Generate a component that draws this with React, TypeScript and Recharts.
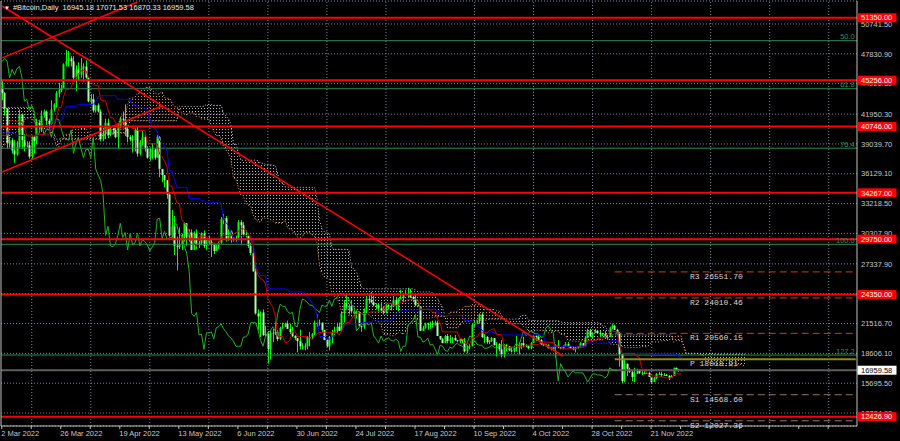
import { ComposedChart, Bar, Line, Area, XAxis, YAxis, CartesianGrid, ReferenceLine, ReferenceDot } from 'recharts'

const FONT = '"Liberation Sans", Arial, sans-serif'
const MONO = '"Liberation Mono", "DejaVu Sans Mono", monospace'

// daily bars, 14 Dec 2021 .. 3 Dec 2022, prices in thousands of USD
// (bars before 2 Mar only feed the ichimoku windows)
const closesK = [
  48.4, 48.9, 47.6, 46.2, 46.8, 46.7, 46.9, 49.0, 48.6, 50.8, 50.4, 50.8, 50.6, 50.6, 47.5, 46.5, 47.1, 46.3,
  47.7, 47.3, 46.4, 45.8, 43.4, 43.1, 41.5, 41.7, 41.9, 41.8, 42.7, 43.9, 42.6, 43.1, 43.2, 43.1, 42.2, 42.4, 41.7, 40.7, 36.5, 35.1, 36.3, 36.7, 36.9, 36.8, 37.2, 37.7, 38.2, 37.9, 38.5,
  38.7, 36.9, 37.3, 41.6, 41.4, 42.4, 43.8, 44.1, 44.4, 43.6, 42.4, 42.2, 42.1, 42.6, 44.6, 43.9, 40.6, 40.0, 40.1, 38.4, 37.0, 38.3, 37.3, 38.3, 39.2, 39.1, 37.7, 43.2,
  44.4, 44.0, 42.5, 39.1, 39.4, 38.4, 38.0, 38.7, 41.9, 39.4, 38.8, 38.9, 37.8, 39.7, 39.3, 41.1, 40.9, 41.8, 42.2, 41.3, 41.0, 42.4, 42.9, 44.0, 44.3, 44.5, 46.8, 47.1, 47.4, 47.1, 45.5,
  46.3, 45.8, 46.4, 46.6, 45.5, 43.2, 43.4, 42.3, 42.8, 42.2, 39.5, 40.1, 41.1, 39.9, 40.5, 40.4, 39.7, 40.8, 41.5, 41.4, 40.5, 39.7, 39.5, 39.4, 40.4, 38.1, 39.2, 39.7, 38.6, 37.7,
  38.5, 38.5, 37.7, 39.7, 36.6, 36.0, 35.5, 34.1, 30.1, 31.0, 29.1, 29.0, 29.3, 30.1, 31.3, 29.9, 30.4, 28.7, 30.3, 29.2, 29.4, 30.3, 29.1, 29.7, 29.5, 29.2, 28.6, 29.0, 29.4, 31.7, 31.8,
  29.8, 30.5, 29.7, 29.9, 29.9, 31.4, 31.1, 30.2, 30.1, 29.1, 28.4, 26.6, 22.5, 22.2, 22.6, 20.4, 20.5, 19.0, 20.6, 20.6, 20.7, 20.0, 21.1, 21.2, 21.5, 21.0, 20.7, 20.3, 20.1, 19.8,
  19.3, 19.3, 19.3, 20.2, 20.2, 20.5, 21.6, 21.6, 21.6, 20.9, 19.9, 19.3, 20.2, 20.6, 20.8, 21.2, 20.8, 22.5, 23.4, 23.2, 23.2, 22.7, 22.5, 22.6, 21.3, 21.2, 22.9, 23.9, 23.8, 23.6, 23.3,
  23.3, 23.0, 22.8, 22.6, 23.3, 23.2, 23.2, 23.8, 23.2, 23.9, 24.0, 24.4, 24.4, 24.3, 24.1, 23.9, 23.3, 23.2, 20.8, 21.1, 21.5, 21.4, 21.5, 21.4, 21.6, 20.3, 20.0, 19.6, 20.3, 19.8, 20.0,
  20.1, 19.9, 19.8, 20.0, 19.8, 18.8, 19.3, 19.3, 21.4, 21.6, 21.8, 22.4, 20.2, 20.2, 19.7, 19.8, 20.1, 19.4, 19.5, 19.0, 18.5, 19.4, 19.3, 18.9, 18.8, 19.2, 19.1, 19.4, 19.6, 19.4,
  19.3, 19.1, 19.6, 20.3, 20.2, 19.9, 19.5, 19.4, 19.4, 19.1, 19.1, 19.2, 19.4, 19.2, 19.1, 19.3, 19.5, 19.3, 19.1, 19.0, 19.2, 19.2, 19.6, 19.3, 20.1, 20.8, 20.3, 20.6, 20.8, 20.6, 20.5,
  20.5, 20.2, 20.2, 21.1, 21.3, 20.9, 20.6, 18.5, 15.9, 17.6, 17.1, 16.8, 16.3, 16.6, 16.9, 16.7, 16.7, 16.7, 16.7, 16.3, 15.8, 16.2, 16.6, 16.6, 16.5, 16.5, 16.4, 16.2, 16.4, 17.2,
  17.0, 16.95, 16.96,
]

const highsK = [
  48.6, 49.5, 49.4, 48.0, 47.3, 48.3, 47.5, 49.3, 49.5, 51.4, 51.8, 51.1, 51.2, 52.0, 50.7, 48.1, 47.9, 48.5,
  47.9, 47.9, 47.6, 47.5, 47.0, 43.7, 43.1, 42.3, 42.8, 42.2, 43.0, 44.3, 44.4, 43.4, 43.7, 43.5, 43.2, 42.6, 42.4, 43.4, 41.0, 36.8, 36.8, 37.0, 37.5, 38.9, 37.2, 38.0, 38.6, 38.3, 38.7,
  39.2, 38.8, 37.4, 41.8, 41.9, 42.6, 44.4, 45.4, 44.8, 45.8, 43.9, 42.9, 42.7, 42.8, 44.7, 44.6, 44.1, 40.9, 40.4, 40.3, 39.4, 38.4, 39.2, 38.9, 39.7, 40.2, 39.8, 43.7,
  44.9, 45.3, 44.1, 42.5, 39.7, 39.6, 39.4, 39.3, 42.4, 42.0, 40.0, 39.3, 39.3, 39.9, 39.8, 41.5, 41.3, 42.3, 42.4, 42.3, 41.5, 43.3, 43.0, 44.2, 45.0, 44.8, 46.9, 48.2, 48.1, 47.6, 47.6,
  46.7, 47.0, 47.4, 46.9, 47.2, 45.5, 43.9, 43.9, 42.8, 43.0, 42.4, 40.6, 41.5, 41.5, 40.8, 40.6, 40.6, 41.1, 41.7, 42.2, 42.9, 40.8, 39.9, 39.9, 40.6, 40.7, 39.4, 40.3, 39.9, 38.8,
  38.7, 39.1, 38.6, 39.9, 39.8, 36.6, 36.0, 35.5, 34.2, 32.6, 32.0, 30.0, 30.9, 30.3, 31.4, 31.3, 30.7, 30.7, 30.5, 30.7, 29.6, 30.4, 30.6, 29.8, 30.1, 29.8, 29.4, 29.2, 29.5, 31.9, 32.2,
  32.0, 30.7, 30.6, 29.9, 30.1, 31.6, 31.6, 31.4, 30.6, 30.3, 29.4, 28.6, 26.9, 22.9, 22.7, 22.9, 21.3, 20.8, 20.8, 21.0, 21.7, 20.9, 21.2, 21.6, 21.6, 21.8, 21.5, 21.2, 20.4, 20.1,
  20.9, 19.6, 19.6, 20.3, 20.7, 20.6, 21.8, 22.4, 21.9, 21.6, 20.9, 20.0, 20.3, 20.9, 21.2, 21.6, 21.6, 22.7, 23.8, 24.3, 23.4, 23.8, 23.0, 22.8, 22.7, 21.3, 23.0, 24.2, 24.4, 24.6, 24.2,
  23.5, 23.5, 23.6, 23.2, 23.4, 23.4, 23.4, 24.2, 24.0, 24.0, 24.8, 24.4, 24.8, 25.0, 24.9, 24.2, 24.4, 23.6, 23.2, 21.3, 21.6, 21.6, 21.7, 21.8, 21.8, 21.8, 20.3, 20.1, 20.4, 20.5, 20.4,
  20.2, 20.4, 19.9, 20.0, 20.0, 20.1, 19.4, 19.5, 21.5, 21.8, 21.8, 22.5, 22.6, 20.5, 20.3, 19.9, 20.2, 20.1, 19.7, 19.6, 19.9, 19.5, 19.5, 19.3, 19.2, 19.3, 20.3, 19.7, 19.6, 20.2,
  19.5, 19.4, 19.7, 20.4, 20.4, 20.4, 20.0, 19.6, 19.5, 19.5, 19.2, 19.2, 19.5, 19.9, 19.2, 19.4, 19.7, 19.7, 19.3, 19.3, 19.2, 19.3, 19.7, 19.6, 20.3, 21.0, 21.0, 20.7, 21.0, 20.8, 20.8,
  20.6, 20.8, 20.4, 21.2, 21.5, 21.4, 21.0, 20.7, 18.6, 18.1, 17.6, 17.2, 16.9, 17.2, 17.1, 17.0, 16.9, 17.0, 16.8, 16.8, 16.3, 16.3, 16.7, 16.8, 16.8, 16.7, 16.6, 16.5, 16.5, 17.2,
  17.2, 17.1, 17.07,
]

const lowsK = [
  46.6, 46.6, 47.5, 45.6, 45.9, 46.6, 45.6, 46.6, 48.4, 48.1, 50.4, 50.2, 49.9, 50.5, 47.3, 46.2, 46.0, 45.7,
  46.2, 46.7, 45.7, 45.6, 42.7, 42.5, 40.7, 41.0, 41.4, 39.7, 41.3, 42.5, 42.4, 41.8, 42.6, 42.6, 41.6, 41.3, 41.3, 40.6, 35.5, 34.0, 34.6, 33.2, 35.8, 36.3, 35.6, 36.2, 37.4, 37.4, 37.0,
  38.1, 36.6, 36.3, 37.0, 40.9, 41.1, 42.0, 42.8, 43.2, 43.3, 42.0, 41.7, 41.9, 41.6, 42.5, 43.4, 40.1, 39.5, 39.7, 38.1, 36.8, 36.4, 37.1, 34.4, 38.0, 38.6, 37.3, 37.5,
  42.9, 43.3, 41.8, 38.6, 38.7, 38.1, 37.2, 37.9, 38.7, 38.6, 38.3, 38.7, 37.6, 37.6, 38.1, 39.0, 40.4, 40.2, 41.6, 40.9, 40.5, 40.9, 42.2, 42.6, 43.6, 44.1, 44.5, 46.6, 46.6, 46.6, 45.3,
  44.2, 45.2, 45.5, 45.1, 45.4, 43.1, 42.8, 42.1, 42.1, 42.1, 39.3, 39.3, 39.5, 39.6, 39.8, 40.0, 39.6, 38.6, 40.6, 40.9, 39.8, 39.2, 39.3, 38.2, 38.3, 37.8, 37.9, 38.9, 38.3, 37.6,
  37.4, 37.6, 37.5, 37.7, 35.8, 35.3, 34.8, 33.7, 30.0, 29.9, 28.2, 26.7, 28.8, 28.7, 29.5, 29.1, 29.5, 28.7, 28.7, 28.8, 28.9, 29.2, 28.9, 28.7, 29.3, 28.0, 28.3, 28.6, 28.8, 29.3, 31.2,
  29.5, 29.6, 29.4, 29.5, 29.5, 29.8, 29.3, 30.0, 29.9, 28.9, 28.2, 26.6, 22.4, 20.9, 20.2, 20.3, 20.3, 17.6, 18.0, 19.7, 20.4, 19.8, 19.9, 21.0, 21.2, 21.0, 20.5, 20.2, 19.9, 18.7,
  19.0, 19.0, 18.9, 19.0, 19.3, 20.0, 20.4, 21.2, 21.3, 20.7, 19.9, 19.2, 18.9, 19.6, 20.4, 20.5, 20.8, 20.8, 21.6, 22.9, 22.4, 22.5, 22.3, 22.0, 21.3, 20.7, 21.0, 22.6, 23.4, 23.5, 23.2,
  22.9, 22.7, 22.7, 22.4, 22.5, 22.9, 22.8, 23.2, 22.9, 22.7, 23.9, 23.6, 24.3, 24.1, 24.0, 23.6, 23.2, 23.2, 20.8, 20.8, 21.0, 20.9, 21.0, 21.1, 21.3, 20.3, 19.9, 19.6, 19.6, 19.6, 19.6,
  19.6, 19.8, 19.7, 19.6, 19.6, 18.7, 18.6, 19.0, 19.3, 21.1, 21.4, 21.5, 20.1, 19.6, 19.5, 19.5, 19.7, 19.4, 18.3, 18.8, 18.2, 18.2, 18.8, 18.8, 18.7, 18.7, 18.8, 18.5, 19.0, 19.2,
  19.2, 19.0, 19.0, 19.6, 19.8, 19.9, 19.4, 19.3, 19.3, 19.1, 18.9, 18.9, 18.2, 19.1, 19.0, 19.0, 19.3, 19.2, 19.1, 18.9, 18.7, 19.1, 19.2, 19.2, 19.3, 20.1, 20.2, 20.0, 20.6, 20.5, 20.2,
  20.3, 20.1, 20.0, 20.2, 21.0, 20.9, 20.4, 17.3, 15.7, 15.8, 16.4, 16.7, 15.9, 15.8, 16.6, 16.6, 16.5, 16.6, 16.6, 16.3, 15.6, 15.8, 16.1, 16.5, 16.3, 16.4, 16.4, 16.0, 16.2, 16.4,
  16.9, 16.8, 16.87,
]

// open, high, low, close of the current bar (title line)
const lastBar = [16945.18, 17071.53, 16870.33, 16959.58]

const firstShown = 78 // 2 Mar 2022
const daysShown = 348
const shift = 26

const priceTicks = [50741.5, 47830.9, 44920.3, 41950.3, 39039.7, 36129.1, 33218.5, 30307.9, 27337.9, 24427.3, 21516.7, 18606.1, 15695.5, 12784.9]
const tickDays = [0, 12, 24, 36, 48, 60, 72, 84, 96, 108, 120, 132, 144, 156, 168, 180, 192, 204, 216, 228, 240, 252, 264, 276, 288, 300, 312, 324, 336]
const labelDays = [0, 24, 48, 72, 96, 120, 144, 168, 192, 216, 240, 264]
const dateLabels = ['2 Mar 2022', '26 Mar 2022', '19 Apr 2022', '13 May 2022', '6 Jun 2022', '30 Jun 2022', '24 Jul 2022', '17 Aug 2022', '10 Sep 2022', '4 Oct 2022', '28 Oct 2022', '21 Nov 2022']
const gridDays = [12, 36, 60, 84, 108, 132, 156, 192, 216, 240, 264, 288, 312, 336]

const levelPrices = [51350, 45256, 40746, 34267, 29750, 24350, 12426.9]
const fibPrices = [49112, 44424, 38624, 29247, 18441]
const fibLabels = ['50.0', '61.8', '76.4', '100.0', '127.2']
const pivotNames = ['R3', 'R2', 'R1', 'P', 'S1', 'S2']
const pivotPrices = [26551.7, 24010.46, 20560.15, 18018.91, 14568.6, 12027.36]
const pivotFrom = 249
const pivotTo = 347
const pivotLabelDay = 280
const trendStarts = [[0, 52497], [0, 47433], [0, 36301]]
const trendEnds = [[228, 18347], [55, 52887], [65, 42740]]

const yDomain = [11518, 52985]
// price labels first, then the boxed level tags so the tags sit on top
const axisValues = [...priceTicks, ...levelPrices, lastBar[3]]

function mid(high: number[], low: number[], i: number, len: number) {
  if (i < len - 1 || i >= high.length) return null
  let hi = -Infinity
  let lo = Infinity
  for (let k = i - len + 1; k <= i; k++) {
    hi = Math.max(hi, high[k])
    lo = Math.min(lo, low[k])
  }
  return (hi + lo) / 2
}

function buildRows() {
  const n = Math.min(closesK.length, highsK.length, lowsK.length)
  const close = closesK.slice(0, n).map((v) => v * 1000)
  const open = close.map((c, i) => (i === 0 ? c : close[i - 1]))
  open[n - 1] = lastBar[0]
  close[n - 1] = lastBar[3]
  const high = highsK.slice(0, n).map((v, i) => Math.max(v * 1000, open[i], close[i]))
  const low = lowsK.slice(0, n).map((v, i) => Math.min(v * 1000, open[i], close[i]))
  high[n - 1] = lastBar[1]
  low[n - 1] = lastBar[2]

  const tenkan = close.map((_, i) => mid(high, low, i, 9))
  const kijun = close.map((_, i) => mid(high, low, i, 26))

  const rows: any[] = []
  for (let d = 0; d < daysShown; d++) {
    const i = d + firstShown
    const has = i < n
    const s = i - shift
    const a = s >= 0 && s < n && tenkan[s] != null && kijun[s] != null ? (tenkan[s]! + kijun[s]!) / 2 : null
    const b = s >= 0 && s < n ? mid(high, low, s, 52) : null
    rows.push({
      day: d,
      range: has ? [low[i], high[i]] : null,
      open: has ? open[i] : null,
      close: has ? close[i] : null,
      high: has ? high[i] : null,
      low: has ? low[i] : null,
      tenkan: has ? tenkan[i] : null,
      kijun: has ? kijun[i] : null,
      chikou: i + shift < n ? close[i + shift] : null,
      spanA: a,
      spanB: b,
    })
  }
  const up = rows.map((r) => (r.spanA != null && r.spanB != null ? r.spanA >= r.spanB : null))
  rows.forEach((r, k) => {
    if (up[k] == null) return
    const band = [Math.min(r.spanA, r.spanB), Math.max(r.spanA, r.spanB)]
    const near = [up[k - 1], up[k], up[k + 1]]
    r.bull = near.includes(true) ? band : null
    r.bear = near.includes(false) ? band : null
  })
  return rows
}

const rows = buildRows()

function Candle(props: any) {
  const { x, y, width, height, payload } = props
  if (!payload || payload.open == null) return null
  const top = Math.min(y, y + height)
  const h = Math.abs(height)
  const span = payload.high - payload.low || 1
  const py = (v: number) => top + ((payload.high - v) / span) * h
  const cx = Math.round(x + width / 2) + 0.5
  const b0 = py(Math.max(payload.open, payload.close))
  const b1 = py(Math.min(payload.open, payload.close))
  const bull = payload.close >= payload.open
  return (
    <g>
      <line x1={cx} x2={cx} y1={top} y2={top + h} stroke="#00ff00" strokeWidth={1} />
      <rect x={cx - 1} y={b0} width={2} height={Math.max(1, b1 - b0)} fill={bull ? '#00ff00' : '#a8ffa8'} />
    </g>
  )
}

function PriceTick(props: any) {
  const { x, y, payload } = props
  const v = payload.value
  const boxed = levelPrices.includes(v) || v === lastBar[3]
  if (!boxed) {
    return (
      <text x={x} y={y + 2.7} fill="#c8c8c8" fontSize={7.5} fontFamily={FONT} textAnchor="start">
        {v.toFixed(2)}
      </text>
    )
  }
  const current = v === lastBar[3]
  return (
    <g>
      <rect x={x - 3.5} y={y - 4.5} width={39} height={9} fill={current ? '#ffffff' : '#ff0000'} />
      <text x={x} y={y + 2.7} fill={current ? '#000000' : '#ffffff'} fontSize={7.5} fontFamily={FONT} textAnchor="start">
        {v.toFixed(2)}
      </text>
    </g>
  )
}

function DateTick(props: any) {
  const { x, y, payload } = props
  const k = labelDays.indexOf(payload.value)
  return (
    <g>
      <line x1={x - 0.5} x2={x - 0.5} y1={y} y2={y + 3} stroke="#c0c0c0" />
      {k >= 0 && (
        <text x={x - 1} y={y + 10} fill="#c8c8c8" fontSize={7.5} fontFamily={FONT} textAnchor="start">
          {dateLabels[k]}
        </text>
      )}
    </g>
  )
}

function fibText(text: string) {
  return (p: any) => (
    <text x={p.cx - 1} y={p.cy - 1.5} fill="#2e8b57" fontSize={7.5} fontFamily={FONT} textAnchor="end">
      {text}
    </text>
  )
}

function pivotText(text: string) {
  return (p: any) => (
    <text x={p.cx - 1} y={p.cy + 7} fill="#d8d8d8" fontSize={8} fontFamily={MONO} textAnchor="start">
      {text}
    </text>
  )
}

export default function App() {
  return (
    <div style={{ position: 'fixed', left: 0, top: 0, width: 900, height: 441, background: '#000' }}>
      <ComposedChart width={900} height={441} data={rows} margin={{ top: 1, right: 0, bottom: 0, left: 0 }} barCategoryGap={0}>
        <defs>
          <pattern id="bearDots" width="3" height="3" patternUnits="userSpaceOnUse">
            <rect width="1" height="1" fill="#b4b4b4" />
          </pattern>
          <pattern id="bullDots" width="3" height="3" patternUnits="userSpaceOnUse">
            <rect width="1" height="1" fill="#d08a50" />
          </pattern>
        </defs>
        <CartesianGrid yAxisId="r" vertical={false} stroke="#778899" strokeDasharray="1 2" />
        <XAxis
          dataKey="day"
          type="category"
          ticks={tickDays}
          interval={0}
          height={15}
          tickSize={0}
          tickMargin={0}
          tickLine={false}
          axisLine={{ stroke: '#c0c0c0' }}
          tick={<DateTick />}
        />
        <YAxis yAxisId="l" width={1} tick={false} tickLine={false} axisLine={{ stroke: '#c0c0c0' }} />
        <YAxis
          yAxisId="r"
          orientation="right"
          type="number"
          width={43}
          domain={yDomain}
          ticks={axisValues}
          interval={0}
          allowDataOverflow
          tickSize={4}
          tickMargin={0}
          tickLine={false}
          axisLine={{ stroke: '#c0c0c0' }}
          tick={<PriceTick />}
        />
        {gridDays.map((d) => (
          <ReferenceLine key={'g' + d} yAxisId="r" x={d} stroke="#778899" strokeDasharray="1 2" />
        ))}

        <Area yAxisId="r" dataKey="bear" type="linear" stroke="none" fill="url(#bearDots)" fillOpacity={1} isAnimationActive={false} />
        <Area yAxisId="r" dataKey="bull" type="linear" stroke="none" fill="url(#bullDots)" fillOpacity={1} isAnimationActive={false} />
        <Line yAxisId="r" dataKey="spanA" stroke="#f4a460" strokeDasharray="1 2" dot={false} isAnimationActive={false} />
        <Line yAxisId="r" dataKey="spanB" stroke="#d8bfd8" strokeDasharray="1 2" dot={false} isAnimationActive={false} />

        {fibPrices.map((v) => (
          <ReferenceLine key={'f' + v} yAxisId="r" y={v} stroke="#2e8b57" strokeWidth={1} />
        ))}
        <ReferenceLine yAxisId="r" y={lastBar[3]} stroke="#5c5c5c" strokeWidth={2} />

        <Line yAxisId="r" dataKey="chikou" stroke="#22b422" dot={false} isAnimationActive={false} />
        <Bar yAxisId="r" dataKey="range" shape={<Candle />} isAnimationActive={false} />
        <Line yAxisId="r" dataKey="kijun" stroke="#0000ff" dot={false} isAnimationActive={false} />
        <Line yAxisId="r" dataKey="tenkan" stroke="#d00000" dot={false} isAnimationActive={false} />

        {pivotPrices.map((v, k) => (
          <ReferenceLine
            key={'p' + k}
            yAxisId="r"
            segment={[{ x: pivotFrom, y: v }, { x: pivotTo, y: v }]}
            stroke={k < 3 ? '#c84010' : k === 3 ? '#8c8c14' : '#9c6f6f'}
            strokeWidth={k === 3 ? 2 : 1}
            strokeDasharray={k === 3 ? undefined : '7 4'}
          />
        ))}
        {levelPrices.map((v) => (
          <ReferenceLine key={'r' + v} yAxisId="r" y={v} stroke="#ff0000" strokeWidth={2} />
        ))}
        {trendStarts.map((s, k) => (
          <ReferenceLine
            key={'t' + k}
            yAxisId="r"
            segment={[{ x: s[0], y: s[1] }, { x: trendEnds[k][0], y: trendEnds[k][1] }]}
            stroke="#ff0000"
            strokeWidth={1.5}
          />
        ))}

        {pivotPrices.map((v, k) => (
          <ReferenceDot
            key={'pl' + k}
            yAxisId="r"
            x={pivotLabelDay}
            y={v}
            ifOverflow="hidden"
            shape={pivotText(`${pivotNames[k]} ${v.toFixed(2)}`)}
          />
        ))}
        {fibPrices.map((v, k) => (
          <ReferenceDot key={'fl' + k} yAxisId="r" x={daysShown - 1} y={v} shape={fibText(fibLabels[k])} />
        ))}
      </ComposedChart>
      <div
        style={{
          position: 'absolute',
          left: 4,
          top: 3,
          color: '#e8e8e8',
          fontFamily: FONT,
          fontSize: 7.5,
          lineHeight: '9px',
          whiteSpace: 'pre',
        }}
      >
        <span style={{ fontSize: 6, marginRight: 3 }}>▼</span>
        {`#Bitcoin,Daily  ${lastBar.map((v) => v.toFixed(2)).join(' ')}`}
      </div>
    </div>
  )
}
